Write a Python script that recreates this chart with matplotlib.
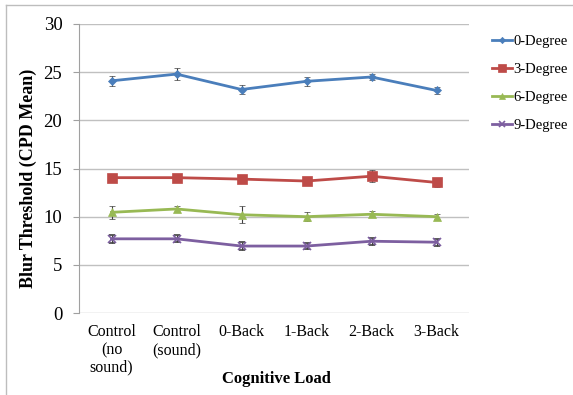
import numpy as np
import matplotlib.pyplot as plt
from matplotlib.lines import Line2D

plt.rcParams['font.family'] = ['Liberation Serif', 'DejaVu Serif']

categories = ['Control\n(no\nsound)', 'Control\n(sound)', '0-Back', '1-Back', '2-Back', '3-Back']
series_names = ['0-Degree', '3-Degree', '6-Degree', '9-Degree']

deg0 = [24.1, 24.8, 23.2, 24.05, 24.5, 23.1]
deg3 = [14.05, 14.05, 13.9, 13.7, 14.2, 13.55]
deg6 = [10.45, 10.8, 10.2, 10.0, 10.25, 10.0]
deg9 = [7.7, 7.7, 6.95, 6.95, 7.45, 7.35]

err0 = [0.5, 0.6, 0.45, 0.45, 0.35, 0.4]
err3 = [0.15, 0.15, 0.15, 0.15, 0.6, 0.5]
err6 = [0.7, 0.3, 0.9, 0.5, 0.3, 0.25]
err9 = [0.4, 0.35, 0.45, 0.35, 0.35, 0.35]

values = [deg0, deg3, deg6, deg9]
errors = [err0, err3, err6, err9]
colors = ['#4A7EBB', '#BE4B48', '#98B954', '#7D5FA0']
markers = ['D', 's', '^', 'x']
msizes = [4, 6.5, 6, 6]

fig = plt.figure(figsize=(5.73, 3.95), dpi=100)
ax = fig.add_axes([79 / 573, 1 - 313 / 395, 390 / 573, 289 / 395])

x = np.arange(len(categories))
for vals, errs, c, m, ms, name in zip(values, errors, colors, markers, msizes, series_names):
    ax.errorbar(x, vals, yerr=errs, color=c, marker=m, markersize=ms, linewidth=2,
                ecolor='#404040', elinewidth=0.8, capsize=2.5, capthick=0.8,
                markeredgewidth=1.2 if m == 'x' else 0.5, label=name, zorder=3)

ax.set_xlim(-0.5, 5.5)
ax.set_ylim(0, 30)
ax.set_yticks(np.arange(0, 31, 5))
ax.set_xticks(x)
ax.set_xticklabels(categories, fontsize=11.5, linespacing=1.15)
ax.tick_params(axis='y', labelsize=13.5, length=4, color='#A0A0A0', pad=8)
ax.tick_params(axis='x', length=0, pad=8)
ax.yaxis.grid(True, color='#C0C0C0', linewidth=1)
ax.set_axisbelow(True)
for s in ['top', 'right', 'bottom']:
    ax.spines[s].set_visible(False)
ax.spines['left'].set_color('#A0A0A0')

fig.text(28 / 573, 1 - 178 / 395, 'Blur Threshold (CPD Mean)', rotation=90,
         fontsize=13, fontweight='bold', ha='center', va='center')
fig.text(276 / 573, 1 - 379 / 395, 'Cognitive Load', fontsize=12,
         fontweight='bold', ha='center', va='center')

handles = [Line2D([], [], color=c, marker=m, markersize=ms * 0.8, linewidth=2,
                  markeredgewidth=1.2 if m == 'x' else 0.5)
           for c, m, ms in zip(colors, markers, msizes)]
fig.legend(handles, series_names, loc='upper left', bbox_to_anchor=(486 / 573, 1 - 29 / 395),
           frameon=False, fontsize=10.5, handlelength=1.4, handletextpad=0.1,
           labelspacing=1.02, borderaxespad=0)

# outer chart border (top and left edges visible)
fig.add_artist(Line2D([6 / 573, 6 / 573], [0, 1 - 5 / 395], transform=fig.transFigure,
                      color='#BDBDBD', linewidth=1))
fig.add_artist(Line2D([6 / 573, 1], [1 - 5 / 395, 1 - 5 / 395], transform=fig.transFigure,
                      color='#BDBDBD', linewidth=1))

fig.savefig('out.png', dpi=100)
